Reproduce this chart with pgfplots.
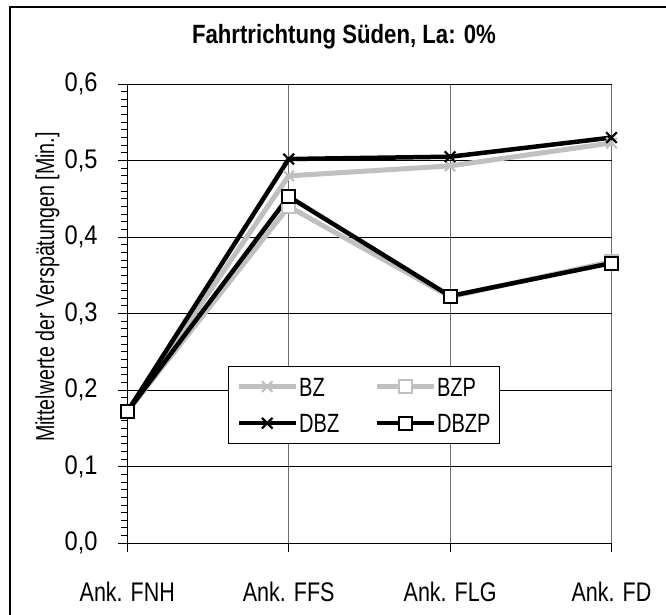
\documentclass[border=0pt]{standalone}
\usepackage{fontspec}
\setmainfont{Liberation Sans}[FakeStretch=0.84]
\newfontfamily\fxtick{Liberation Sans}[FakeStretch=0.80]
\newfontfamily\fytick{Liberation Sans}[FakeStretch=0.88]
\newfontfamily\fnarrow{Liberation Sans}[FakeStretch=0.76]
\usepackage{pgfplots}
\pgfplotsset{compat=1.18}

\definecolor{lightline}{RGB}{192,192,192}
\definecolor{vgrid}{RGB}{110,110,110}

\begin{document}
\begin{tikzpicture}[font=\fontsize{26}{31}\selectfont]
\useasboundingbox (0,0) rectangle (666bp,615bp);
% outer chart frame (only top and left edges are inside the picture)
\draw[line width=1.3bp] (10bp,0) -- (10bp,608bp) -- (666bp,608bp);
\begin{axis}[
    at={(127.3bp,71.7bp)}, anchor=south west,
    scale only axis,
    width=484.2bp, height=459.3bp,
    xmin=0, xmax=3, ymin=0, ymax=0.6,
    clip=false,
    axis lines=left,
    axis line style={-, line width=1.2bp},
    xtick=data,
    xticklabels={Ank. FNH, Ank. FFS, Ank. FLG, Ank. FD},
    ytick={0,0.1,...,0.6},
    minor y tick num=9,
    tick align=outside,
    major tick length=9bp,
    minor tick length=6bp,
    tick style={black, line width=1bp},
    grid=major,
    x grid style={vgrid, line width=1.2bp},
    y grid style={black, line width=1bp},
    /pgf/number format/assume math mode=true,
    /pgf/number format/use comma,
    /pgf/number format/fixed,
    /pgf/number format/fixed zerofill,
    /pgf/number format/precision=1,
    yticklabel style={font=\fontsize{27}{32}\fytick, anchor=east, inner sep=0pt, xshift=-20.5bp},
    xticklabel style={font=\fontsize{27}{32}\fxtick, anchor=base, inner sep=0pt, yshift=-49bp},
    title={\bfseries Fahrtrichtung Süden, La: 0\%},
    title style={font=\fontsize{26.5}{31}\selectfont, at={(axis description cs:0.4475,1.0755)}, anchor=base, inner sep=0pt},
    ylabel={Mittelwerte der Verspätungen [Min.]},
    ylabel style={font=\fontsize{26}{31}\fnarrow, at={(axis description cs:-0.165,0.558)}, anchor=center, inner sep=0pt},
    legend columns=2,
    legend cell align=left,
    legend image code/.code={\draw[mark repeat=2,mark phase=2] plot coordinates {(0bp,0bp) (28.5bp,0bp) (57bp,0bp)};},
    legend style={
        font=\fontsize{26.5}{31}\fnarrow,
        at={(axis description cs:0.2086,0.3867)}, anchor=north west,
        draw=black, line width=0.8bp, fill=white,
        inner xsep=7.5bp, inner ysep=7bp,
        row sep=9.6bp,
        /tikz/every even column/.append style={column sep=33.7bp},
        nodes={inner xsep=1bp, inner ysep=4bp, text height=19bp, text depth=0bp},
    },
]
\addplot[lightline, line width=5bp, mark=x, mark size=7.5bp, mark options={line width=2.2bp}]
    coordinates {(0,0.172) (1,0.480) (2,0.493) (3,0.523)};
\addplot[lightline, line width=5bp, mark=square*, mark size=6.5bp, mark options={line width=2bp, fill=white}]
    coordinates {(0,0.172) (1,0.440) (2,0.322) (3,0.368)};
\addplot[black, line width=4.5bp, mark=x, mark size=7.5bp, mark options={line width=2.2bp}]
    coordinates {(0,0.172) (1,0.502) (2,0.505) (3,0.530)};
\addplot[black, line width=4.5bp, mark=square*, mark size=6.5bp, mark options={line width=2bp, fill=white}]
    coordinates {(0,0.172) (1,0.453) (2,0.323) (3,0.366)};
\legend{BZ, BZP, DBZ, DBZP}
\end{axis}
\end{tikzpicture}
\end{document}
